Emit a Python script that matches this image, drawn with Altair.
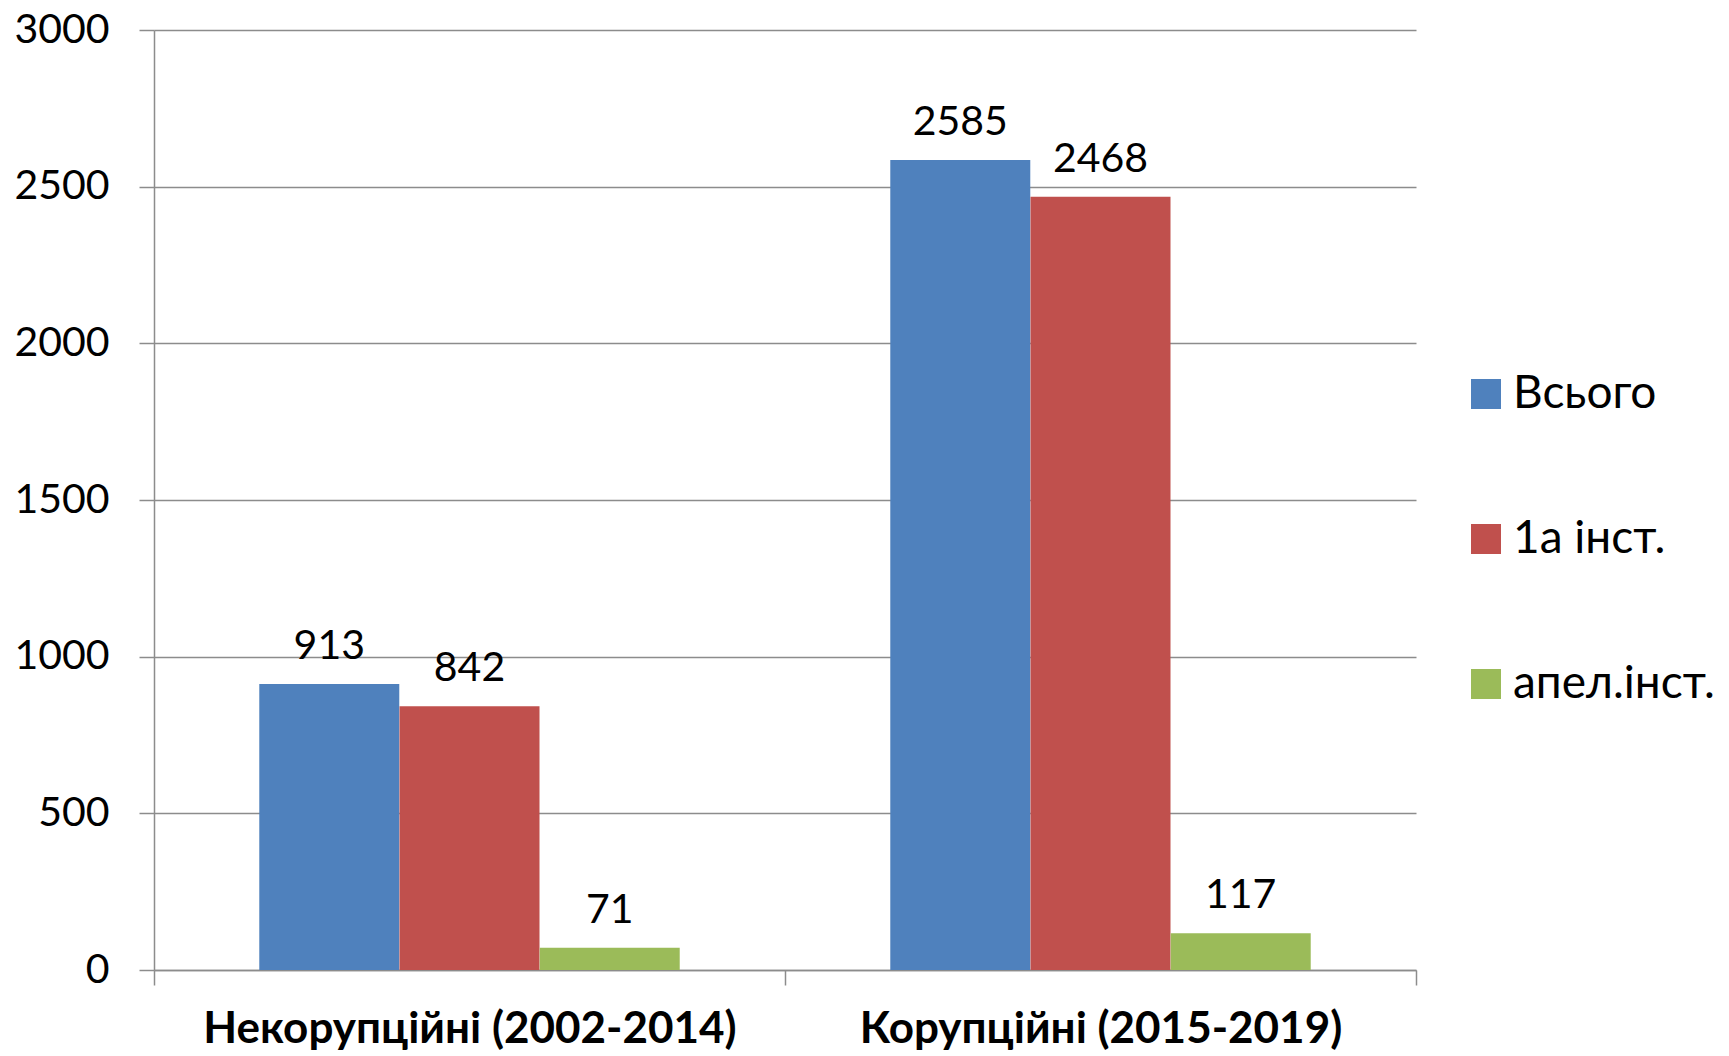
import altair as alt
import pandas as pd

categories = ["Некорупційні (2002-2014)", "Корупційні (2015-2019)"]
series = ["Всього", "1а інст.", "апел.інст."]
values_nonc = [913, 842, 71]
values_corr = [2585, 2468, 117]
colors = ["#4F81BD", "#C0504D", "#9BBB59"]
y_ticks = [0, 500, 1000, 1500, 2000, 2500, 3000]

rows = []
for s, v in zip(series, values_nonc):
    rows.append({"cat": categories[0], "series": s, "value": v})
for s, v in zip(series, values_corr):
    rows.append({"cat": categories[1], "series": s, "value": v})
df = pd.DataFrame(rows)

FONT = "Lato"
GRID = "#8c8c8c"

x = alt.X("cat:N", sort=categories, title=None,
          scale=alt.Scale(paddingInner=0, paddingOuter=0),
          axis=alt.Axis(labelAngle=0, labelFont=FONT, labelFontSize=44,
                        labelFontWeight="bold", labelColor="black",
                        labelPadding=57, tickBand="extent", tickSize=15,
                        tickColor=GRID, tickWidth=1.5, domainColor=GRID,
                        domainWidth=1.5, labelBaseline="alphabetic", labelLimit=1000))
xo = alt.XOffset("series:N", sort=series,
                 scale=alt.Scale(paddingInner=0, paddingOuter=0.75))
y = alt.Y("value:Q", title=None,
          scale=alt.Scale(domain=[0, 3000], nice=False),
          axis=alt.Axis(values=y_ticks, format="d", labelFont=FONT, labelFontSize=41,
                        labelColor="black", labelPadding=30, tickSize=15,
                        tickColor=GRID, tickWidth=1.5, domainColor=GRID,
                        domainWidth=1.5, gridColor=GRID, gridWidth=1.5,
                        labelBaseline="middle"))
color = alt.Color("series:N", sort=series,
                  scale=alt.Scale(domain=series, range=colors),
                  legend=alt.Legend(title=None, orient="none", legendX=1309,
                                    legendY=341, symbolType="square",
                                    symbolSize=900, symbolStrokeWidth=0,
                                    labelFont=FONT, labelFontSize=46,
                                    labelColor="black", rowPadding=99,
                                    labelOffset=4, labelLimit=400))

bars = alt.Chart(df).mark_bar(size=140).encode(x=x, xOffset=xo, y=y, color=color)
labels = alt.Chart(df).mark_text(dy=-25, baseline="alphabetic", font=FONT,
                                 fontSize=41, color="black").encode(
    x=x, xOffset=xo, y=y, text=alt.Text("value:Q"))

chart = (bars + labels).properties(
    width=1262, height=940,
    autosize=alt.AutoSizeParams(type="none"),
    padding={"left": 146, "top": 22, "right": 305, "bottom": 86},
).configure_view(stroke="transparent")

chart.save("out.html", embed_options={"renderer": "svg", "actions": False})
